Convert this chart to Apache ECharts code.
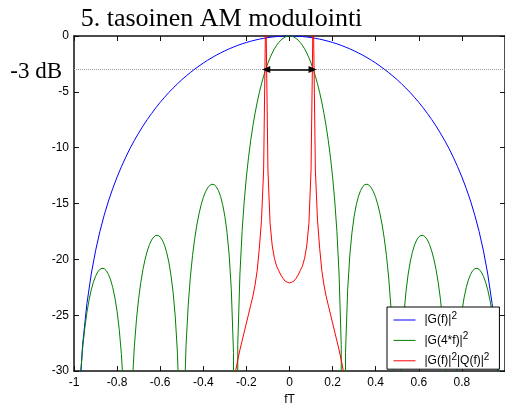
<!DOCTYPE html>
<html><head><meta charset="utf-8">
<script src="https://cdn.jsdelivr.net/npm/echarts@6/dist/echarts.min.js"></script>
<style>html,body{margin:0;padding:0;background:#fff}#c{width:505px;height:411px}</style>
</head><body><div id="c"></div>
<script>
const titleText = '5. tasoinen AM modulointi';
const refText = '-3 dB';
const xName = 'fT';
const seriesNames = ['|G(f)|^2', '|G(4*f)|^2', '|G(f)|^2|Q(f)|^2'];
const xTicks = { min: -1, max: 1, interval: 0.2 };
const yTicks = { min: -30, max: 0, interval: 5 };

// fine frequency grid (fT) for |G(4f)|^2
const fFine = [-1,-0.99,-0.98,-0.97,-0.96,-0.95,-0.94,-0.93,-0.92,-0.91,-0.9,-0.89,-0.88,-0.87,-0.86,-0.85,-0.84,-0.83,-0.82,-0.81,-0.8,-0.79,-0.78,-0.77,-0.76,-0.75,-0.74,-0.73,-0.72,-0.71,-0.7,-0.69,-0.68,-0.67,-0.66,-0.65,-0.64,-0.63,-0.62,-0.61,-0.6,-0.59,-0.58,-0.57,-0.56,-0.55,-0.54,-0.53,-0.52,-0.51,-0.5,-0.49,-0.48,-0.47,-0.46,-0.45,-0.44,-0.43,-0.42,-0.41,-0.4,-0.39,-0.38,-0.37,-0.36,-0.35,-0.34,-0.33,-0.32,-0.31,-0.3,-0.29,-0.28,-0.27,-0.26,-0.25,-0.24,-0.23,-0.22,-0.21,-0.2,-0.19,-0.18,-0.17,-0.16,-0.15,-0.14,-0.13,-0.12,-0.11,-0.1,-0.09,-0.08,-0.07,-0.06,-0.05,-0.04,-0.03,-0.02,-0.01,0,0.01,0.02,0.03,0.04,0.05,0.06,0.07,0.08,0.09,0.1,0.11,0.12,0.13,0.14,0.15,0.16,0.17,0.18,0.19,0.2,0.21,0.22,0.23,0.24,0.25,0.26,0.27,0.28,0.29,0.3,0.31,0.32,0.33,0.34,0.35,0.36,0.37,0.38,0.39,0.4,0.41,0.42,0.43,0.44,0.45,0.46,0.47,0.48,0.49,0.5,0.51,0.52,0.53,0.54,0.55,0.56,0.57,0.58,0.59,0.6,0.61,0.62,0.63,0.64,0.65,0.66,0.67,0.68,0.69,0.7,0.71,0.72,0.73,0.74,0.75,0.76,0.77,0.78,0.79,0.8,0.81,0.82,0.83,0.84,0.85,0.86,0.87,0.88,0.89,0.9,0.91,0.92,0.93,0.94,0.95,0.96,0.97,0.98,0.99,1];
const greenDb = [-300,-39.94,-33.90,-30.40,-27.97,-26.16,-24.74,-23.62,-22.73,-22.04,-21.51,
-21.13,-20.89,-20.79,-20.83,-21.01,-21.34,-21.84,-22.53,-23.45,-24.66,
-26.28,-28.51,-31.80,-37.64,-300,-37.41,-31.34,-27.81,-25.35,-23.50,
-22.05,-20.90,-19.98,-19.25,-18.68,-18.26,-17.99,-17.85,-17.85,-17.98,
-18.27,-18.72,-19.37,-20.24,-21.41,-22.98,-25.15,-28.39,-34.18,-300,
-33.83,-27.70,-24.11,-21.58,-19.67,-18.15,-16.92,-15.92,-15.11,-14.46,
-13.96,-13.60,-13.37,-13.27,-13.30,-13.48,-13.83,-14.35,-15.10,-16.14,
-17.58,-19.61,-22.70,-28.32,-300,-27.63,-21.31,-17.51,-14.77,-12.62,
-10.85,-9.35,-8.06,-6.94,-5.94,-5.06,-4.28,-3.59,-2.97,-2.42,
-1.94,-1.52,-1.15,-0.84,-0.58,-0.37,-0.21,-0.09,-0.02,
0,
-0.02,-0.09,-0.21,-0.37,-0.58,-0.84,-1.15,-1.52,-1.94,
-2.42,-2.97,-3.59,-4.28,-5.06,-5.94,-6.94,-8.06,-9.35,-10.85,
-12.62,-14.77,-17.51,-21.31,-27.63,-300,-28.32,-22.70,-19.61,-17.58,
-16.14,-15.10,-14.35,-13.83,-13.48,-13.30,-13.27,-13.37,-13.60,-13.96,
-14.46,-15.11,-15.92,-16.92,-18.15,-19.67,-21.58,-24.11,-27.70,-33.83,
-300,-34.18,-28.39,-25.15,-22.98,-21.41,-20.24,-19.37,-18.72,-18.27,
-17.98,-17.85,-17.85,-17.99,-18.26,-18.68,-19.25,-19.98,-20.90,-22.05,
-23.50,-25.35,-27.81,-31.34,-37.41,-300,-37.64,-31.80,-28.51,-26.28,
-24.66,-23.45,-22.53,-21.84,-21.34,-21.01,-20.83,-20.79,-20.89,-21.13,
-21.51,-22.04,-22.73,-23.62,-24.74,-26.16,-27.97,-30.40,-33.90,-39.94,
-300];

// coarser grid for |G(f)|^2
const fCoarse = [-1,-0.98,-0.96,-0.94,-0.92,-0.9,-0.88,-0.86,-0.84,-0.82,-0.8,-0.78,-0.76,-0.74,-0.72,-0.7,-0.68,-0.66,-0.64,-0.62,-0.6,-0.58,-0.56,-0.54,-0.52,-0.5,-0.48,-0.46,-0.44,-0.42,-0.4,-0.38,-0.36,-0.34,-0.32,-0.3,-0.28,-0.26,-0.24,-0.22,-0.2,-0.18,-0.16,-0.14,-0.12,-0.1,-0.08,-0.06,-0.04,-0.02,0,0.02,0.04,0.06,0.08,0.1,0.12,0.14,0.16,0.18,0.2,0.22,0.24,0.26,0.28,0.3,0.32,0.34,0.36,0.38,0.4,0.42,0.44,0.46,0.48,0.5,0.52,0.54,0.56,0.58,0.6,0.62,0.64,0.66,0.68,0.7,0.72,0.74,0.76,0.78,0.8,0.82,0.84,0.86,0.88,0.9,0.92,0.94,0.96,0.98,1];
const blueDb = [-300,-33.81,-27.63,-23.95,-21.31,-19.23,-17.51,-16.05,-14.77,-13.64,
-12.62,-11.70,-10.85,-10.07,-9.35,-8.69,-8.06,-7.48,-6.94,-6.42,
-5.94,-5.49,-5.06,-4.66,-4.28,-3.92,-3.59,-3.27,-2.97,-2.69,
-2.42,-2.17,-1.94,-1.72,-1.52,-1.33,-1.15,-0.99,-0.84,-0.70,
-0.58,-0.47,-0.37,-0.28,-0.21,-0.14,-0.09,-0.05,-0.02,-0.01,
0,
-0.01,-0.02,-0.05,-0.09,-0.14,-0.21,-0.28,-0.37,-0.47,-0.58,
-0.70,-0.84,-0.99,-1.15,-1.33,-1.52,-1.72,-1.94,-2.17,-2.42,
-2.69,-2.97,-3.27,-3.59,-3.92,-4.28,-4.66,-5.06,-5.49,-5.94,
-6.42,-6.94,-7.48,-8.06,-8.69,-9.35,-10.07,-10.85,-11.70,-12.62,
-13.64,-14.77,-16.05,-17.51,-19.23,-21.31,-23.95,-27.63,-33.81,-300];

// |G(f)|^2|Q(f)|^2 near the centre
const fRed = [-0.26,-0.25,-0.24,-0.23,-0.22,-0.21,-0.2,-0.19,-0.18,-0.17,-0.16,-0.15,-0.14,-0.13,-0.12,-0.11,-0.1,-0.09,-0.08,-0.07,-0.06,-0.05,-0.04,-0.03,-0.02,-0.01,0,0.01,0.02,0.03,0.04,0.05,0.06,0.07,0.08,0.09,0.1,0.11,0.12,0.13,0.14,0.15,0.16,0.17,0.18,0.19,0.2,0.21,0.22,0.23,0.24,0.25,0.26];
const redDb = [-31,-30,-29,-28.1,-27.3,-26.5,-25.7,-24.9,-24.1,-23.3,-22.3,-21,-19,-16.5,-12,3,-12,-16.8,-18.8,-19.9,-20.6,-21.0,-21.4,-21.7,-21.95,-22.05,-22.1,
-22.05,-21.95,-21.7,-21.4,-21.0,-20.6,-19.9,-18.8,-16.8,-12,3,-12,-16.5,-19,-21,-22.3,-23.3,-24.1,-24.9,-25.7,-26.5,-27.3,-28.1,-29,-30,-31];

// -3 dB reference and the bandwidth arrow
const refLineF = [-1.028, 1];
const refLineDb = [-3, -3];
const arrowF = [-0.108, 0.107];
const arrowDb = -3;

const pair = (xs, ys) => xs.map((x, i) => [x, ys[i]]);
const sans = 'Liberation Sans, Arial, sans-serif';
const serif = 'Liberation Serif, Times New Roman, serif';

const chart = echarts.init(document.getElementById('c'), null, { renderer: 'canvas' });
const axisCommon = {
  type: 'value',
  axisLine: { show: true, onZero: false, lineStyle: { color: '#111', width: 1.5 } },
  axisTick: { show: true, inside: true, length: 5, lineStyle: { color: '#111', width: 1 } },
  splitLine: { show: false }
};
chart.setOption({
  animation: false,
  backgroundColor: '#fff',
  grid: { left: 74, top: 36, right: -2.4, bottom: 33, containLabel: false },
  xAxis: [
    Object.assign({}, axisCommon, {
      position: 'bottom', min: xTicks.min, max: xTicks.max, interval: xTicks.interval,
      name: xName, nameLocation: 'middle', nameGap: 21,
      nameTextStyle: { fontFamily: sans, fontSize: 12, color: '#000' },
      axisLabel: { margin: 6, fontFamily: sans, fontSize: 12, color: '#000', showMaxLabel: false }
    }),
    Object.assign({}, axisCommon, {
      position: 'top', min: xTicks.min, max: xTicks.max, interval: xTicks.interval,
      axisLabel: { show: false }
    })
  ],
  yAxis: [
    Object.assign({}, axisCommon, {
      position: 'left', min: yTicks.min, max: yTicks.max, interval: yTicks.interval,
      axisLabel: { margin: 5, fontFamily: sans, fontSize: 12, color: '#000' }
    }),
    Object.assign({}, axisCommon, {
      position: 'right', min: yTicks.min, max: yTicks.max, interval: yTicks.interval,
      axisLabel: { show: false }
    })
  ],
  legend: {
    data: seriesNames,
    orient: 'vertical', left: 387, top: 307,
    padding: [4, 10, 2, 6], itemGap: 5, itemWidth: 22, itemHeight: 16,
    backgroundColor: '#fff', borderColor: '#000', borderWidth: 1, borderRadius: 0,
    itemStyle: { opacity: 0 },
    lineStyle: { width: 1 },
    textStyle: { fontFamily: sans, fontSize: 12, color: '#000', padding: [0, 0, 0, 4],
      rich: { s: { fontFamily: sans, fontSize: 10, color: '#000', padding: [0, 0, 8, 0] } } },
    formatter: (n) => n.replace(/\^2/g, '{s|2}')
  },
  graphic: [
    { type: 'text', x: 221.5, y: 19.5, silent: true,
      style: { text: titleText, fontFamily: serif, fontSize: 26, fill: '#000', textAlign: 'center', textVerticalAlign: 'middle' } },
    { type: 'text', x: 62, y: 71.5, silent: true,
      style: { text: refText, fontFamily: serif, fontSize: 23, fill: '#000', textAlign: 'right', textVerticalAlign: 'middle' } }
  ],
  series: [
    { name: '-3', type: 'line', data: pair(refLineF, refLineDb), clip: false, symbol: 'none', silent: true, z: 1,
      lineStyle: { color: '#999', width: 1, type: [1, 1] },
      markLine: { silent: true, symbol: ['triangle', 'triangle'], symbolSize: [7, 8], label: { show: false },
        lineStyle: { color: '#000', width: 1.5, type: 'solid' },
        data: [[{ coord: [arrowF[0], arrowDb] }, { coord: [arrowF[1], arrowDb] }]] } },
    { name: seriesNames[0], type: 'line', data: pair(fCoarse, blueDb), symbol: 'none', clip: true, z: 2,
      lineStyle: { color: '#0000ff', width: 1 }, itemStyle: { color: '#0000ff' } },
    { name: seriesNames[1], type: 'line', data: pair(fFine, greenDb), symbol: 'none', clip: true, z: 3,
      lineStyle: { color: '#008000', width: 1 }, itemStyle: { color: '#008000' } },
    { name: seriesNames[2], type: 'line', data: pair(fRed, redDb), symbol: 'none', clip: true, z: 4,
      lineStyle: { color: '#ff0000', width: 1 }, itemStyle: { color: '#ff0000' } }
  ]
});
</script></body></html>
